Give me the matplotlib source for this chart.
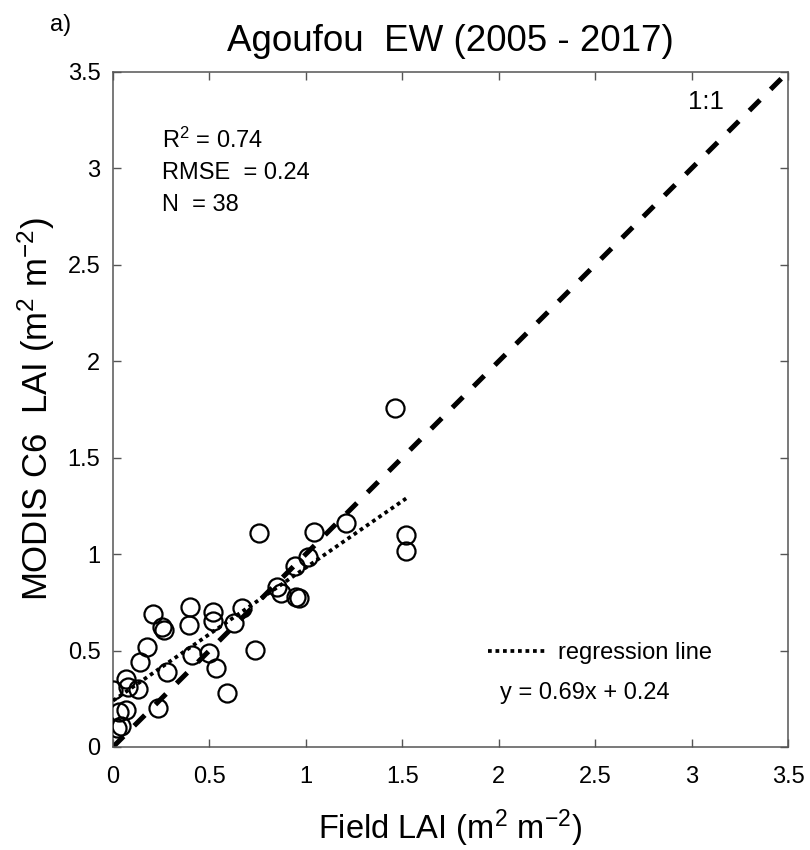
import numpy as np
import matplotlib
matplotlib.use('Agg')
import matplotlib.pyplot as plt
from matplotlib.ticker import FormatStrFormatter

plt.rcParams['font.family'] = ['Liberation Sans', 'DejaVu Sans']
plt.rcParams['mathtext.default'] = 'regular'

# Feld-LAI vs. MODIS C6 LAI
field_lai = [0.00, 0.02, 0.04, 0.03, 0.065, 0.07, 0.08, 0.13, 0.14, 0.175,
             0.21, 0.235, 0.255, 0.265, 0.28, 0.40, 0.395, 0.41, 0.50, 0.52,
             0.52, 0.535, 0.59, 0.625, 0.67, 0.735, 0.755, 0.85, 0.87, 0.95,
             0.965, 0.945, 1.01, 1.04, 1.21, 1.46, 1.52, 1.52]
modis_lai = [0.295, 0.10, 0.11, 0.18, 0.19, 0.355, 0.31, 0.30, 0.44, 0.52,
             0.69, 0.20, 0.62, 0.605, 0.39, 0.725, 0.63, 0.475, 0.485, 0.70,
             0.655, 0.41, 0.28, 0.645, 0.72, 0.505, 1.11, 0.83, 0.80, 0.78,
             0.77, 0.94, 0.985, 1.115, 1.16, 1.76, 1.10, 1.015]

slope = 0.69
intercept = 0.24
r2 = 0.74
rmse = 0.24
ticks = [0, 0.5, 1, 1.5, 2, 2.5, 3, 3.5]

fig = plt.figure(figsize=(8.1, 8.5), dpi=100)
ax = fig.add_axes([0.1395, 0.1212, 0.8333, 0.7941])

# 1:1 Linie
ax.plot([0, 3.5], [0, 3.5], color='black', lw=3.6, linestyle=(0, (3, 3)),
        solid_capstyle='butt', zorder=2)

# Messpunkte
ax.plot(field_lai, modis_lai, 'o', markersize=13, markerfacecolor='none',
        markeredgecolor='black', markeredgewidth=1.6, zorder=3)

# Regressionsgerade
xr = np.linspace(min(field_lai), max(field_lai), 50)
reg, = ax.plot(xr, slope * xr + intercept, color='black', lw=2.7,
               linestyle=(0, (1, 1.0)), zorder=4)

ax.set_xlim(0, 3.5)
ax.set_ylim(0, 3.5)
ax.set_xticks(ticks)
ax.set_yticks(ticks)
fmt = FormatStrFormatter('%g')
ax.xaxis.set_major_formatter(fmt)
ax.yaxis.set_major_formatter(fmt)
ax.tick_params(direction='in', top=True, right=True, length=6, width=1,
               color='#555555', labelsize=17, pad=9)
ax.tick_params(axis='x', pad=14)
for s in ax.spines.values():
    s.set_color('#555555')
    s.set_linewidth(1.1)

ax.set_title('Agoufou  EW (2005 - 2017)', fontsize=26.5, pad=15)
ax.set_xlabel('Field LAI (m$^2$ m$^{-2}$)', fontsize=23.5, labelpad=14)
ax.set_ylabel('MODIS C6  LAI (m$^2$ m$^{-2}$)', fontsize=25, labelpad=8)

ax.text(0.073, 0.899, 'R$^2$ = 0.74', transform=ax.transAxes, fontsize=17, va='center')
ax.text(0.073, 0.851, 'RMSE  = 0.24', transform=ax.transAxes, fontsize=17, va='center')
ax.text(0.073, 0.803, 'N  = %d' % len(field_lai), transform=ax.transAxes, fontsize=17, va='center')
ax.text(0.878, 0.956, '1:1', transform=ax.transAxes, fontsize=18.5, ha='center', va='center')

ax.legend([reg], ['regression line'], loc='center left', bbox_to_anchor=(0.556, 0.139),
          frameon=False, fontsize=17, handlelength=2.5, handletextpad=0.45,
          borderpad=0, borderaxespad=0)
ax.text(0.573, 0.080, 'y = %.2fx + %.2f' % (slope, intercept), transform=ax.transAxes,
        fontsize=17, va='center')

fig.text(0.075, 0.971, 'a)', fontsize=17, ha='center', va='center')

plt.savefig('out.png', dpi=100)
